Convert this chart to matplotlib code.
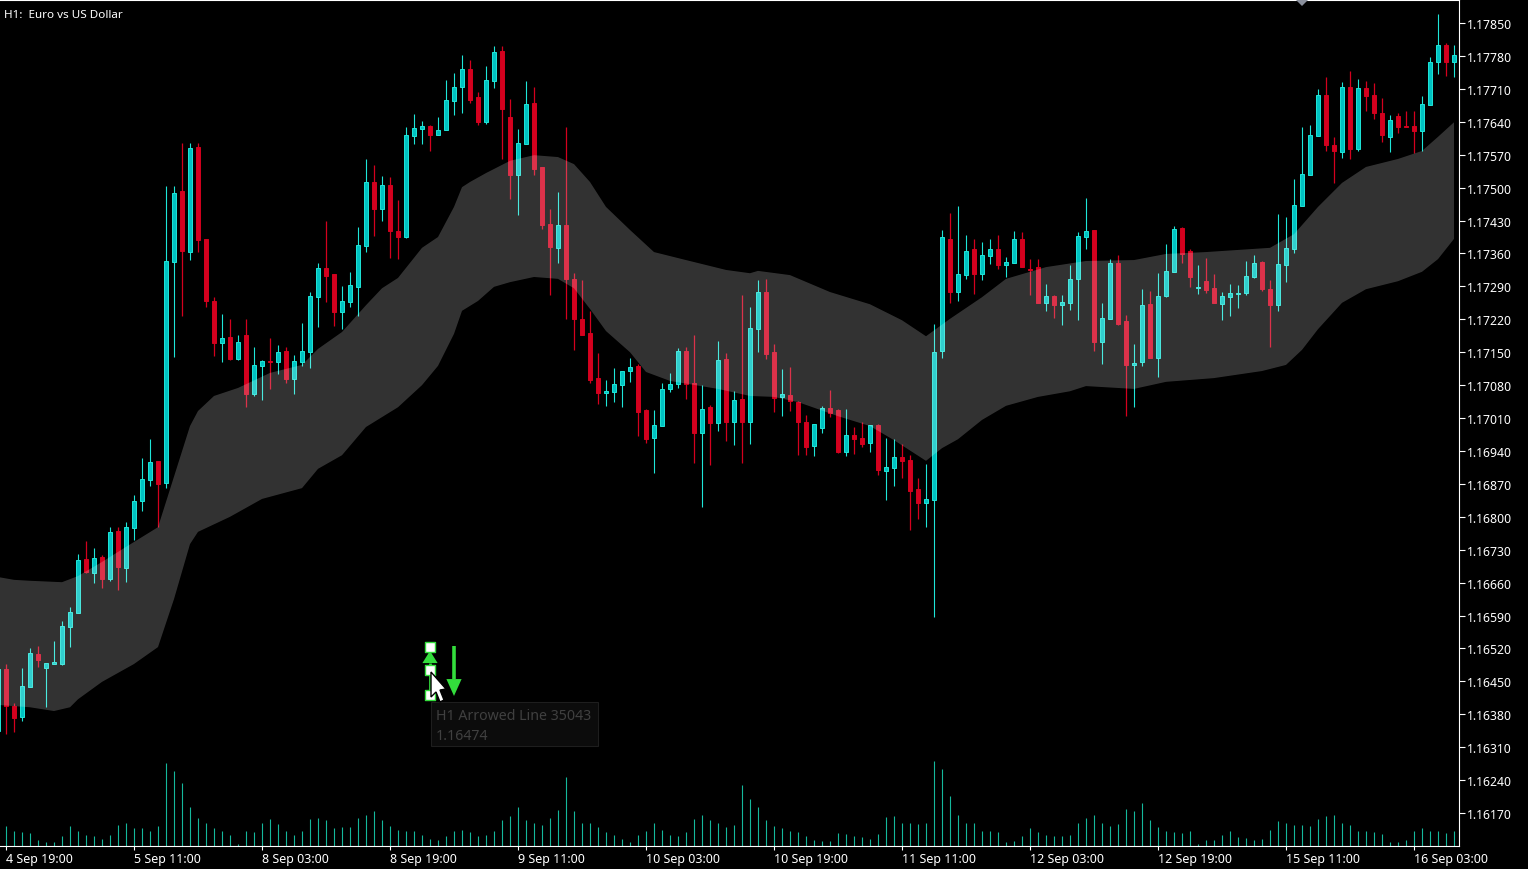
import numpy as np
import matplotlib
matplotlib.use('Agg')
import matplotlib.pyplot as plt
from matplotlib.patches import Polygon, Rectangle

plt.rcParams['font.family'] = ['Noto Sans', 'DejaVu Sans']

# prices in points (1.17850 -> 117850), first bar is cut by the left edge
opens = [116344,
    116476,116397,116374,116438,116508,116478,116487,116487,116566,116595,
    116710,116680,116714,116668,116770,116691,116776,116834,116878,116919,
    116872,117342,117493,117363,117586,117391,117259,117170,117182,117136,
    117187,117061,117121,117131,117129,117152,117093,117129,117150,117267,
    117329,117316,117235,117257,117289,117376,117512,117454,117505,117408,
    117395,117610,117625,117631,117612,117622,117684,117714,117752,117693,
    117639,117727,117790,117650,117527,117593,117680,117544,117423,117372,
    117420,117306,117221,117191,117095,117063,117065,117080,117110,117121,
    117027,116968,116993,117072,117082,117152,117084,116978,117033,116999,
    117136,117002,117050,117002,117199,117278,117150,117055,117059,117044,
    117002,116951,116989,117031,117027,116938,116974,116968,116957,116995,
    116897,116904,116927,116921,116859,116829,116836,117152,117391,117278,
    117314,117369,117316,117355,117369,117335,117340,117391,117327,117331,
    117255,117269,117250,117255,117306,117395,117410,117172,117221,117340,
    117216,117123,117129,117252,117138,117269,117321,117414,117365,117286,
    117301,117286,117252,117267,117274,117276,117310,117342,117284,117250,
    117335,117369,117461,117527,117610,117697,117591,117576,117714,117582,
    117712,117697,117659,117608,117652,117631,117631,117620,117676,117767,
    117803,117767]
highs = [116480,
    116487,116404,116478,116521,116525,116489,116536,116578,116608,116721,
    116748,116734,116719,116778,116778,116789,116846,116925,116965,116919,
    117503,117503,117595,117595,117595,117391,117267,117231,117221,117187,
    117221,117161,117133,117180,117165,117161,117144,117212,117278,117340,
    117429,117316,117291,117321,117416,117561,117548,117525,117522,117474,
    117629,117656,117642,117633,117650,117729,117744,117782,117771,117703,
    117759,117801,117801,117688,117625,117727,117714,117544,117454,117491,
    117629,117318,117303,117238,117148,117091,117116,117110,117138,117125,
    117029,117027,117084,117106,117159,117161,117187,117080,117038,117174,
    117148,117067,117272,117246,117303,117306,117167,117114,117118,117046,
    117016,116997,117036,117070,117029,117029,116991,117002,116995,116997,
    116968,116965,116955,116931,116882,116912,117210,117410,117446,117461,
    117399,117391,117384,117391,117399,117352,117408,117406,117348,117348,
    117295,117272,117272,117335,117406,117478,117410,117255,117348,117357,
    117229,117167,117284,117280,117318,117380,117418,117416,117369,117335,
    117350,117316,117278,117295,117293,117344,117357,117344,117303,117444,
    117437,117518,117629,117633,117710,117735,117608,117725,117748,117731,
    117727,117722,117690,117654,117659,117663,117663,117695,117778,117869,
    117807,117803]
lows = [116330,
    116338,116342,116366,116438,116481,116395,116487,116485,116523,116595,
    116680,116659,116649,116664,116644,116661,116751,116812,116865,116778,
    116861,117140,117227,117346,117363,117246,117142,117129,117133,117133,
    117033,117057,117048,117072,117104,117084,117061,117121,117116,117204,
    117257,117206,117199,117246,117227,117363,117397,117429,117350,117348,
    117393,117593,117593,117578,117612,117622,117654,117659,117680,117633,
    117635,117712,117561,117476,117442,117593,117527,117412,117272,117340,
    117221,117155,117187,117084,117040,117036,117044,117033,117087,116972,
    116957,116893,116993,117065,117074,117050,116914,116821,116910,116982,
    116961,116953,116914,116955,117150,117136,117023,117014,117025,116931,
    116931,116929,116978,117012,116936,116929,116934,116948,116938,116889,
    116836,116865,116882,116772,116795,116778,116587,117138,117255,117259,
    117306,117274,117303,117337,117327,117310,117340,117331,117272,117255,
    117238,117223,117208,117240,117218,117369,117152,117125,117221,117208,
    117014,117033,117121,117138,117097,117267,117321,117340,117289,117274,
    117276,117255,117218,117227,117244,117272,117308,117280,117161,117238,
    117299,117361,117461,117527,117610,117578,117510,117563,117561,117578,
    117663,117646,117597,117576,117616,117629,117574,117578,117676,117742,
    117737,117735]
closes = [116476,
    116397,116372,116440,116510,116495,116489,116491,116568,116597,116708,
    116683,116712,116668,116768,116693,116778,116834,116880,116916,116870,
    117344,117488,117365,117584,117389,117259,117170,117180,117136,117172,
    117061,117123,117131,117129,117150,117093,117131,117152,117269,117329,
    117312,117235,117259,117293,117378,117512,117454,117505,117408,117395,
    117612,117627,117631,117612,117622,117686,117714,117752,117686,117639,
    117729,117788,117667,117527,117595,117678,117540,117420,117374,117420,
    117306,117221,117187,117091,117063,117067,117082,117110,117118,117023,
    116965,116995,117072,117082,117152,117082,116978,117029,116999,117133,
    117002,117048,117002,117201,117278,117146,117053,117061,117046,117002,
    116948,116997,117031,117021,116938,116974,116965,116955,116995,116899,
    116906,116927,116919,116855,116829,116838,117150,117395,117278,117316,
    117365,117316,117357,117369,117335,117342,117391,117331,117325,117255,
    117269,117250,117257,117306,117397,117408,117172,117223,117340,117210,
    117123,117127,117250,117138,117269,117323,117412,117359,117310,117289,
    117282,117255,117269,117276,117276,117312,117340,117284,117250,117337,
    117372,117463,117529,117612,117697,117591,117578,117714,117582,117712,
    117695,117659,117612,117644,117629,117629,117620,117678,117767,117803,
    117767,117782]
volumes = [1500,
    2000,1500,1400,1300,600,400,400,1000,2000,1500,
    1100,1000,700,1100,2100,2300,1800,1800,1500,2000,
    8300,7500,6300,3900,2800,2300,1800,1500,1100,200,
    1500,1400,2300,2700,2200,1500,1100,1500,2700,2800,
    2600,1800,1900,1900,2800,3100,3500,2600,2000,1600,
    1500,1500,1100,700,600,1000,1500,1600,1400,1000,
    1100,1500,2600,3000,3900,2600,2300,2100,2800,3600,
    6900,3500,2300,2300,1900,1400,1100,700,400,1100,
    1500,2300,1600,1100,1000,1400,2700,3100,2600,2300,
    1900,2100,6100,4700,3900,2600,2000,1800,1500,1400,
    1000,600,500,500,1300,1200,1000,900,700,1200,
    2900,3000,2300,2300,2200,2300,8500,7700,5000,3100,
    2300,2300,1500,1500,1400,400,500,1000,1800,1400,
    1100,1000,1000,1100,2300,2800,3100,2300,2000,2200,
    3700,3500,4300,2600,1900,1500,1400,1300,1500,200,
    600,600,1100,1500,900,800,600,700,1600,2500,
    2300,2100,2100,2000,2700,3000,3100,2300,2100,1500,
    1500,1400,1200,400,400,600,1500,1800,1500,1500,
    1300,1500]

# envelope band, read at the bars where its edges bend
upper_bars = [-1,1,3,7,9,12,15,19,23,24,26,29,33,37,39,42,45,47,49,52,54,56,57,58,60,63,66,69,71,
    73,75,78,81,85,90,93,94,98,103,108,112,115,118,122,125,130,135,141,145,150,158,161,164,167,170,
    174,177,179,181]
upper_band = [116672,116666,116664,116661,116674,116704,116736,116778,116993,117025,117057,117074,
    117106,117123,117157,117193,117250,117286,117308,117372,117395,117459,117501,117512,117531,
    117557,117569,117565,117550,117512,117459,117410,117363,117346,117325,117318,117323,117314,
    117278,117252,117218,117184,117221,117267,117306,117331,117344,117346,117359,117363,117372,
    117401,117459,117510,117544,117561,117578,117608,117639]
lower_bars = [-1,3,6,8,9,12,16,19,21,23,24,28,32,37,39,42,45,49,52,54,56,57,59,61,63,66,69,71,73,
    75,78,80,83,89,93,96,99,104,108,111,115,117,119,122,125,129,133,135,141,145,151,157,160,162,
    164,167,170,174,177,179,181]
lower_band = [116400,116395,116387,116395,116412,116449,116487,116523,116625,116742,116768,116800,
    116838,116861,116902,116931,116991,117033,117080,117121,117189,117238,117259,117289,117299,
    117310,117306,117286,117242,117195,117150,117108,117089,117072,117057,117055,117044,117014,
    116993,116963,116919,116946,116965,117006,117036,117055,117067,117078,117072,117087,117095,
    117110,117123,117155,117199,117255,117284,117301,117321,117348,117391]

price_ticks = [1.16170,1.16240,1.16310,1.16380,1.16450,1.16520,1.16590,1.16660,1.16730,1.16800,
    1.16870,1.16940,1.17010,1.17080,1.17150,1.17220,1.17290,1.17360,1.17430,1.17500,1.17570,
    1.17640,1.17710,1.17780,1.17850]
time_labels = ['4 Sep 19:00','5 Sep 11:00','8 Sep 03:00','8 Sep 19:00','9 Sep 11:00','10 Sep 03:00',
    '10 Sep 19:00','11 Sep 11:00','12 Sep 03:00','12 Sep 19:00','15 Sep 11:00','16 Sep 03:00']

TEAL = '#00c2c2'
TEAL_EDGE = '#1ee6d8'
RED = '#d4001e'
GREEN = '#33dd3c'
W, H = 1528, 870

o = np.array(opens) / 100000
h = np.array(highs) / 100000
l = np.array(lows) / 100000
c = np.array(closes) / 100000
bars = np.arange(-1, len(o) - 1)
up = c >= o

fig = plt.figure(figsize=(W / 100, H / 100), dpi=100, facecolor='black')
ax = fig.add_axes([0, (H - 847) / H, 1459 / W, 846 / H], facecolor='black')

ax.vlines(bars[up], l[up], h[up], color=TEAL_EDGE, lw=0.8, zorder=2)
ax.vlines(bars[~up], l[~up], h[~up], color=RED, lw=0.9, zorder=2)
body = np.abs(c - o)
bottom = np.minimum(c, o)
ax.bar(bars[up], body[up], bottom=bottom[up], width=0.55, color=TEAL, edgecolor=TEAL_EDGE, lw=0.7, zorder=3)
ax.bar(bars[~up], body[~up], bottom=bottom[~up], width=0.6, color=RED, edgecolor=RED, lw=0.7, zorder=3)

# band is see through, candles show lighter inside it
band_x = upper_bars + lower_bars[::-1]
band_y = [v / 100000 for v in upper_band + lower_band[::-1]]
ax.add_patch(Polygon(np.column_stack([band_x, band_y]), closed=True, facecolor='white', alpha=0.2, lw=0, zorder=4))

ax.set_xlim(-0.75, 181.625)
ax.set_ylim(1.16100, 1.17899)

ax.yaxis.tick_right()
ax.set_yticks(price_ticks)
ax.set_yticklabels(['%.5f' % p for p in price_ticks])
ax.set_xticks(np.arange(len(time_labels)) * 16)
ax.set_xticklabels(time_labels, ha='left')
ax.tick_params(axis='y', colors='white', length=4, width=0.8, pad=1.5, labelsize=8.8)
ax.tick_params(axis='x', colors='white', length=3, width=0.8, pad=1.5, labelsize=9.0)
ax.spines['left'].set_visible(False)
for name in ['top', 'right', 'bottom']:
    ax.spines[name].set_color('white')
    ax.spines[name].set_linewidth(0.8)

# volume bars sit on the bottom of the same axes
ax.vlines(bars, 1.16100, 1.16100 + np.array(volumes) / 84600 * (1.17899 - 1.16100),
          color='#14b89c', lw=0.8, zorder=1)

# arrowed line objects on the chart
ax.vlines(56, 1.16455, 1.16525, color=GREEN, lw=2.6, zorder=6)
ax.add_patch(Polygon([[55.05, 1.16455], [56.95, 1.16455], [56, 1.16419]], closed=True, color=GREEN, lw=0, zorder=6))
ax.vlines(53, 1.16421, 1.16489, color=GREEN, lw=2.0, zorder=6)
ax.add_patch(Polygon([[52.05, 1.16489], [53.95, 1.16489], [53, 1.16515]], closed=True, color=GREEN, lw=0, zorder=6))
ax.scatter([53, 53, 53], [1.16523, 1.16474, 1.16421], marker='s', s=62, facecolor='white',
           edgecolor=GREEN, linewidth=1.0, zorder=7)

# tooltip and other screen items
tip = Rectangle((431 / W, 1 - 747 / H), 167 / W, 44 / H, transform=fig.transFigure,
                facecolor='#0c0c0c', edgecolor='#1e1e1e', lw=0.8, zorder=5)
fig.add_artist(tip)
fig.text(436 / W, 1 - 717 / H, 'H1 Arrowed Line 35043', color='#404040', fontsize=10.2,
         va='center', ha='left', zorder=6)
fig.text(436 / W, 1 - 737 / H, '1.16474', color='#404040', fontsize=10.2, va='center', ha='left', zorder=6)
fig.text(4 / W, 1 - 15.5 / H, 'H1:  Euro vs US Dollar', color='white', fontsize=8.4, va='center', ha='left', zorder=6)

cursor = [(431, 673), (431, 698), (436, 693), (440, 703), (444, 701), (440, 691), (446, 690)]
fig.add_artist(Polygon([(x / W, 1 - y / H) for x, y in cursor], closed=True, transform=fig.transFigure,
                       facecolor='white', edgecolor='black', lw=1.0, zorder=8))
shift = [(1295, 0), (1309, 0), (1302, 7)]
fig.add_artist(Polygon([(x / W, 1 - y / H) for x, y in shift], closed=True, transform=fig.transFigure,
                       facecolor='#8a8f9c', edgecolor='none', zorder=8))

fig.savefig('out.png', dpi=100, facecolor='black')
